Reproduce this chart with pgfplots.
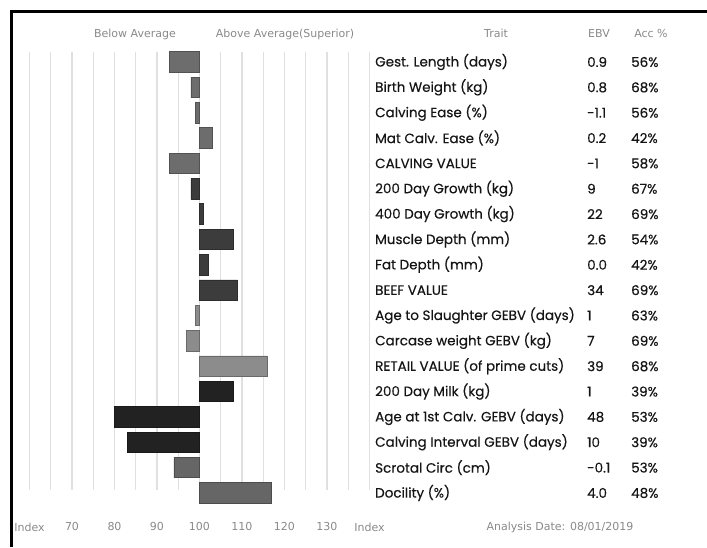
\documentclass[border=0pt]{standalone}
\usepackage{pgfplots}
\pgfplotsset{compat=1.18}
\usepackage{fontspec}
\setmainfont{Poppins}[FakeBold=0.3]
\newfontfamily\lab{DejaVu Sans}
\definecolor{gA}{HTML}{6D6D6D}
\definecolor{gB}{HTML}{3C3C3C}
\definecolor{gC}{HTML}{8C8C8C}
\definecolor{gD}{HTML}{222222}
\definecolor{gE}{HTML}{666666}
\definecolor{txt}{HTML}{151515}
\definecolor{lbl}{HTML}{8A8A8A}
\begin{document}
\begin{tikzpicture}[x=1pt,y=1pt]
\useasboundingbox (0,0) rectangle (707,-547);
\fill[white] (0,0) rectangle (707,-547);
\draw[line width=3pt] (11.5,-547) -- (11.5,-11.5) -- (707,-11.5);
\begin{axis}[at={(29.5pt,-51.9pt)}, anchor=north west, scale only axis,
  width=340pt, height=438pt,
  xmin=-40, xmax=40, ymin=-0.4, ymax=16.88, y dir=reverse, clip=false,
  axis line style={draw=none}, major tick length=0pt, minor tick length=0pt,
  xtick={-40,-30,...,40}, minor xtick={-35,-25,...,35},
  xmajorgrids, xminorgrids,
  major grid style={black!12, line width=1.3pt},
  minor grid style={black!12, line width=1.3pt},
  xticklabels={Index,70,80,90,100,110,120,130,Index},
  xticklabel style={font=\lab\fontsize{11}{12}\selectfont, text=lbl, anchor=center, yshift=-37pt},
  ytick=\empty,
  bar shift=0pt, bar width=20.5pt]
\addplot[xbar, fill=gA, draw=gA!75!black, line width=0.8pt] table[x expr=\thisrow{idx}-100, y=row] {
row idx
0 93
1 98
2 99
3 103
4 93
};
\addplot[xbar, fill=gB, draw=gB!75!black, line width=0.8pt] table[x expr=\thisrow{idx}-100, y=row] {
row idx
5 98
6 101
7 108
8 102
9 109
};
\addplot[xbar, fill=gC, draw=gC!75!black, line width=0.8pt] table[x expr=\thisrow{idx}-100, y=row] {
row idx
10 99
11 97
12 116
};
\addplot[xbar, fill=gD, draw=gD!75!black, line width=0.8pt] table[x expr=\thisrow{idx}-100, y=row] {
row idx
13 108
14 80
15 83
};
\addplot[xbar, fill=gE, draw=gE!75!black, line width=0.8pt] table[x expr=\thisrow{idx}-100, y=row] {
row idx
16 94
17 117
};
\end{axis}
\begin{scope}[every node/.style={font=\lab\fontsize{11}{12}\selectfont, text=lbl, inner sep=0pt}]
\node at (135,-34) {Below Average};
\node at (285,-34) {Above Average(Superior)};
\node at (496,-33) {Trait};
\node at (599,-33) {EBV};
\node at (651,-33) {Acc \%};
\node at (560,-527) {Analysis Date: 08/01/2019};
\end{scope}
\foreach \t/\e/\a [count=\i from 0] in {
  Gest. Length (days)/0.9/56\%,
  Birth Weight (kg)/0.8/68\%,
  Calving Ease (\%)/-1.1/56\%,
  Mat Calv. Ease (\%)/0.2/42\%,
  CALVING VALUE/-1/58\%,
  200 Day Growth (kg)/9/67\%,
  400 Day Growth (kg)/22/69\%,
  Muscle Depth (mm)/2.6/54\%,
  Fat Depth (mm)/0.0/42\%,
  BEEF VALUE/34/69\%,
  Age to Slaughter GEBV (days)/1/63\%,
  Carcase weight GEBV (kg)/7/69\%,
  RETAIL VALUE (of prime cuts)/39/68\%,
  200 Day Milk (kg)/1/39\%,
  Age at 1st Calv. GEBV (days)/48/53\%,
  Calving Interval GEBV (days)/10/39\%,
  Scrotal Circ (cm)/-0.1/53\%,
  Docility (\%)/4.0/48\%}
{
  \pgfmathsetmacro{\yy}{-(62+25.35*\i)}
  \node[anchor=west, inner sep=0pt, text=txt, font=\fontsize{13.5}{15}\selectfont] at (375,\yy) {\t};
  \node[anchor=west, inner sep=0pt, text=txt, font=\fontsize{13.5}{15}\selectfont] at (587,\yy) {\e};
  \node[anchor=west, inner sep=0pt, text=txt, font=\fontsize{13.5}{15}\selectfont] at (631,\yy) {\a};
}
\end{tikzpicture}
\end{document}
